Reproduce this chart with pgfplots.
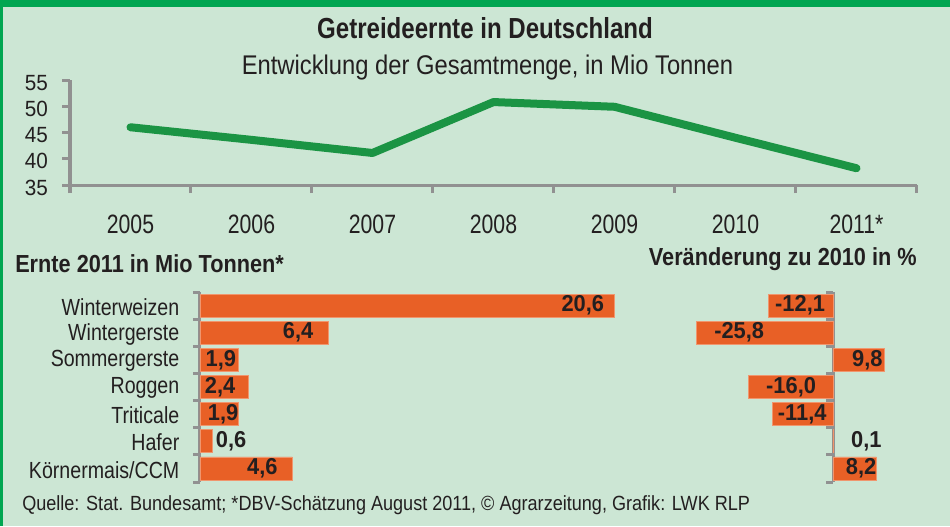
\documentclass[border=0pt]{standalone}
\usepackage{pgfplots}
\pgfplotsset{compat=1.18}
\usepackage{pgfplotstable}
\usepackage{fontspec}
\setmainfont{Liberation Sans}[FakeStretch=0.86]
\newfontfamily\fTitle{Liberation Sans}[FakeStretch=0.83]
\newfontfamily\fSub{Liberation Sans}[FakeStretch=0.88]
\newfontfamily\fYear{Liberation Sans}[FakeStretch=0.80]
\newfontfamily\fTick{Liberation Sans}[FakeStretch=0.94]
\newfontfamily\fCat{Liberation Sans}[FakeStretch=0.84]
\newfontfamily\fLbl{Liberation Sans}[FakeStretch=0.95]
\definecolor{bggreen}{RGB}{204,230,212}
\definecolor{framegreen}{RGB}{0,166,81}
\definecolor{linegreen}{RGB}{27,148,68}
\definecolor{barorange}{RGB}{232,96,38}
\definecolor{baredge}{RGB}{240,150,110}
\definecolor{axgray}{RGB}{145,145,145}
\definecolor{txt}{RGB}{35,31,32}
\newcommand\fs[1]{\fontsize{#1}{#1}\selectfont}

\pgfplotstableread{
year val
0 46.0
1 43.6
2 41.1
3 50.8
4 49.9
5 44.0
6 38.2
}\gesamt

\pgfplotstableread{
idx val lx lbl
0 20.6 19.05 20,6
1 6.4 4.88 6,4
2 1.9 1.04 1,9
3 2.4 1.0 2,4
4 1.9 1.15 1,9
5 0.6 1.55 0,6
6 4.6 3.1 4,6
}\ernte

\pgfplotstableread{
idx val lx lbl
0 -12.1 -6.2 -12,1
1 -25.8 -17.7 -25,8
2 9.8 6.5 9,8
3 -16.0 -7.9 -16,0
4 -11.4 -5.8 -11,4
5 0.1 6.3 0,1
6 8.2 5.3 8,2
}\veraend

\begin{document}
\begin{tikzpicture}[every node/.style={text=txt}]
\fill[bggreen] (0,0) rectangle (712.5pt,-394.5pt);
\fill[framegreen] (0,0) rectangle (712.5pt,-5.25pt);
\fill[framegreen] (0,0) rectangle (2.25pt,-394.5pt);
\node[anchor=base, font=\fTitle\fs{21.75pt}\bfseries, inner sep=0] at (363.75pt,-28.5pt) {Getreideernte in Deutschland};
\node[anchor=base, font=\fSub\fs{20.25pt}, inner sep=0] at (365.6pt,-55.5pt) {Entwicklung der Gesamtmenge, in Mio Tonnen};
\node[anchor=base west, font=\fSub\fs{18.5pt}\bfseries, inner sep=0] at (11.25pt,-204.5pt) {Ernte 2011 in Mio Tonnen*};
\node[anchor=base east, font=\fSub\fs{18.5pt}\bfseries, inner sep=0] at (687.75pt,-198.75pt) {Veränderung zu 2010 in \%};
\node[anchor=base west, font=\fSub\fs{15.4pt}, inner sep=0] at (16.5pt,-382.5pt) {Quelle: Stat. Bundesamt; *DBV-Schätzung August 2011, © Agrarzeitung, Grafik: LWK RLP};

\begin{axis}[
  at={(52.5pt,-138.75pt)}, anchor=south west,
  scale only axis, width=635.25pt, height=78.75pt,
  xmin=-0.5, xmax=6.5, ymin=35, ymax=55,
  axis x line=bottom, axis y line=left,
  axis line style={-, axgray, line width=2.25pt},
  xtick={-0.5,0.5,...,6.5}, xticklabels={},
  extra x ticks={0,...,6},
  extra x tick labels={2005,2006,2007,2008,2009,2010,2011*},
  extra x tick style={major tick length=0pt, xticklabel style={anchor=base, yshift=-36pt}},
  ytick={35,40,...,55},
  tick align=outside, major tick length=6pt,
  tick style={axgray, line width=2.25pt},
  xticklabel style={font=\fYear\fs{19.9pt}, text=txt},
  yticklabel style={font=\fTick\fs{16.5pt}, text=txt, xshift=-7pt, yshift=-2pt},
  /pgf/number format/assume math mode=true,
  clip=false,
]
\addplot[linegreen, line width=6pt, line cap=round, line join=round] table[x=year,y=val] {\gesamt};
\end{axis}

\begin{axis}[
  at={(150pt,-361.5pt)}, anchor=south west,
  scale only axis, width=316.5pt, height=142.5pt,
  xmin=0, xmax=21, ymin=-0.5, ymax=6.5, y dir=reverse,
  axis x line=none, axis y line=left,
  axis line style={-, axgray, line width=2.25pt},
  ytick={-0.5,0.5,...,6.5}, yticklabels={},
  extra y ticks={0,...,6},
  extra y tick labels={Winterweizen,Wintergerste,Sommergerste,Roggen,Triticale,Hafer,Körnermais/CCM},
  extra y tick style={major tick length=0pt, yticklabel style={xshift=-12pt, yshift=-1pt}},
  tick align=outside, major tick length=5.25pt,
  tick style={axgray, line width=2.25pt},
  yticklabel style={font=\fCat\fs{17.5pt}, text=txt},
  clip=false,
]
\addplot[xbar, bar width=17.25pt, fill=barorange, draw=baredge, line width=0.6pt] table[x=val,y=idx] {\ernte};
\addplot[only marks, mark=none, nodes near coords, point meta=explicit symbolic,
  nodes near coords style={anchor=center, font=\fLbl\fs{17.25pt}\bfseries, text=txt}] table[x=lx,y=idx,meta=lbl] {\ernte};
\end{axis}

% axis line with bracket ticks for the right chart (at x = 0 of that chart)
\begin{axis}[
  at={(624.75pt,-361.5pt)}, anchor=south west,
  scale only axis, width=20pt, height=142.5pt,
  xmin=0, xmax=1, ymin=-0.5, ymax=6.5, y dir=reverse,
  axis x line=none, axis y line=left,
  axis line style={-, axgray, line width=2.25pt},
  ytick={-0.5,0.5,...,6.5}, yticklabels={},
  tick align=outside, major tick length=5.25pt,
  tick style={axgray, line width=2.25pt},
]
\end{axis}

\begin{axis}[
  at={(519.4pt,-361.5pt)}, anchor=south west,
  scale only axis, width=153pt, height=142.5pt,
  xmin=-26.5, xmax=12, ymin=-0.5, ymax=6.5, y dir=reverse,
  axis lines=none,
  clip=false,
]
\addplot[xbar, bar width=17.25pt, fill=barorange, draw=baredge, line width=0.6pt] table[x=val,y=idx] {\veraend};
\addplot[only marks, mark=none, nodes near coords, point meta=explicit symbolic,
  nodes near coords style={anchor=center, font=\fLbl\fs{17.25pt}\bfseries, text=txt}] table[x=lx,y=idx,meta=lbl] {\veraend};
\end{axis}
\end{tikzpicture}
\end{document}
